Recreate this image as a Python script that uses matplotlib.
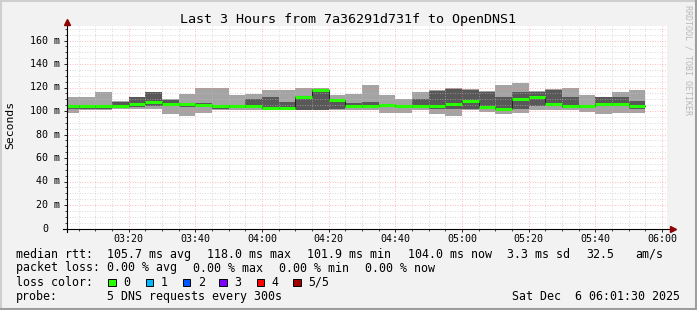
import numpy as np
import pandas as pd
import matplotlib
matplotlib.use('Agg')
import matplotlib.pyplot as plt
import matplotlib.dates as mdates
from matplotlib.patches import Rectangle
from matplotlib.lines import Line2D
from matplotlib.transforms import blended_transform_factory

title = 'Last 3 Hours from 7a36291d731f to OpenDNS1'
first_step = '2025-12-06 03:00'
t_start = pd.Timestamp('2025-12-06 03:01:30')
t_end = pd.Timestamp('2025-12-06 06:01:30')

# 5 DNS requests every 300s, sorted per step: min, 2nd, median, 4th, max (ms)
ping_min = [98.6, 100.9, 100.9, 101.5, 101.7, 101.7, 97.4, 95.7, 98.6, 101.0,
            101.0, 101.0, 100.9, 100.9, 100.9, 100.9, 100.9, 100.9, 100.5, 98.5,
            98.6, 100.9, 97.4, 95.7, 100.9, 99.5, 97.4, 98.6, 100.9, 100.9,
            100.9, 99.5, 97.4, 98.0, 98.5]
ping_lo = [102.0, 101.5, 101.5, 103.5, 103.5, 104.5, 104.5, 103.0, 103.1, 101.7,
           102.5, 102.5, 101.5, 101.5, 101.2, 101.2, 101.5, 102.5, 102.5, 103.5,
           103.5, 102.5, 102.0, 101.7, 102.0, 101.5, 100.9, 101.5, 104.0, 104.5,
           102.5, 102.5, 104.0, 104.0, 101.5]
median = [104.3, 104.3, 104.3, 104.3, 106.3, 108.0, 106.3, 106.3, 105.4, 104.3,
          104.3, 104.3, 102.3, 102.3, 112.3, 118.0, 109.4, 104.3, 104.3, 104.9,
          104.3, 104.3, 104.3, 106.3, 108.3, 103.1, 101.9, 110.6, 112.3, 106.3,
          104.3, 104.3, 106.3, 106.3, 104.0]
ping_hi = [105.0, 105.0, 105.0, 107.7, 111.7, 116.0, 109.4, 106.8, 106.6, 104.8,
           105.5, 110.3, 111.7, 107.7, 113.0, 118.5, 110.0, 107.0, 107.4, 105.5,
           105.0, 110.0, 117.4, 118.6, 118.0, 116.3, 111.7, 116.3, 116.3, 118.0,
           111.7, 105.5, 111.7, 111.7, 108.5]
ping_max = [111.7, 111.7, 116.3, 108.5, 112.0, 116.5, 109.8, 114.6, 119.7, 119.7,
            113.7, 114.5, 118.0, 118.0, 119.7, 119.7, 113.7, 114.8, 122.3, 113.7,
            110.0, 116.3, 118.0, 119.7, 118.3, 116.6, 122.3, 124.0, 117.0, 118.3,
            119.7, 113.7, 112.0, 116.3, 117.8]

ytick_vals = [0, 20, 40, 60, 80, 100, 120, 140, 160]
ytick_text = ['0', '20 m', '40 m', '60 m', '80 m', '100 m', '120 m', '140 m', '160 m']

stat_rows = [
    ('median rtt:', [('105.7 ms avg', 107), ('118.0 ms max', 206.7), ('101.9 ms min', 306.7),
                     ('104.0 ms now', 407.7), ('3.3 ms sd', 506.7), ('32.5', 586), ('am/s', 635)]),
    ('packet loss:', [('0.00 % avg', 107), ('0.00 % max', 193.3), ('0.00 % min', 279.3),
                      ('0.00 % now', 365)]),
]
loss_labels = ['0', '1', '2', '3', '4', '5/5']
loss_colors = ['#26ff00', '#00b8ff', '#0059ff', '#7e00ff', '#ff0000', '#a00000']
probe_text = '5 DNS requests every 300s'
stamp_text = 'Sat Dec  6 06:01:30 2025'

W, H = 697, 310
MONO = 'DejaVu Sans Mono'


def fx(x):
    return x / W


def fy(y):
    return 1 - y / H


fig = plt.figure(figsize=(W / 100, H / 100), dpi=100, facecolor='#f2f2f2')
ax_l, ax_r, ax_b, ax_t = 67, 667, 228.5, 26.4
ax = fig.add_axes([fx(ax_l), fy(ax_b), (ax_r - ax_l) / W, (ax_b - ax_t) / H])
ax.set_facecolor('white')

edges = mdates.date2num(pd.date_range(first_step, periods=len(median) + 1, freq='5min'))


def ext(a):
    return np.append(a, a[-1])


ax.fill_between(edges, ext(ping_min), ext(ping_max), step='post', color='#a4a4a4', lw=0, zorder=1)
ax.fill_between(edges, ext(ping_lo), ext(ping_hi), step='post', color='#585858', lw=0, zorder=1.1)
ax.step(edges, ext(median), where='post', color='#202020', lw=0.7, zorder=3)
ax.hlines(median, edges[:-1], edges[1:], color=loss_colors[0], lw=2.2, zorder=3.1)

ax.set_xlim(mdates.date2num(t_start), mdates.date2num(t_end))
ax.set_ylim(0, 172)
ax.xaxis_date()
ax.xaxis.set_major_locator(mdates.MinuteLocator(byminute=[0, 20, 40]))
ax.xaxis.set_minor_locator(mdates.MinuteLocator(byminute=range(0, 60, 5)))
ax.xaxis.set_major_formatter(mdates.DateFormatter('%H:%M'))
ax.set_yticks(ytick_vals)
ax.set_yticks(np.arange(0, 172, 5), minor=True)
ax.set_yticklabels([])

ax.set_axisbelow(False)
ax.grid(which='minor', color='#c0c0c0', alpha=0.75, ls=(0, (1, 2)), lw=0.6)
ax.grid(which='major', color='#ff8080', alpha=0.7, ls=(0, (1, 2)), lw=0.6)
ax.tick_params(which='major', direction='out', length=2.5, width=0.6, pad=1.2,
               labelsize=7.2, labelfontfamily=MONO)
ax.tick_params(which='minor', direction='out', length=1.5, width=0.5)
for s in ax.spines.values():
    s.set_visible(False)

# axes with arrows
ax.plot([-0.007, 1.008], [0, 0], transform=ax.transAxes, color='black', lw=0.8, clip_on=False, zorder=4)
ax.plot([0, 0], [-0.017, 1.02], transform=ax.transAxes, color='black', lw=0.8, clip_on=False, zorder=4)
ax.plot([1.01], [0], marker='>', ms=4, color='#900000', transform=ax.transAxes, clip_on=False, zorder=5)
ax.plot([0], [1.02], marker='^', ms=4, color='#900000', transform=ax.transAxes, clip_on=False, zorder=5)

# y tick labels in rrdtool style
ylab_trans = blended_transform_factory(fig.transFigure, ax.transData)
for v, t in zip(ytick_vals, ytick_text):
    if v == 0:
        fig.text(fx(45), v, t, fontsize=7.2, family=MONO, ha='center', va='center', transform=ylab_trans)
    else:
        fig.text(fx(60), v, t, fontsize=7.2, family=MONO, ha='right', va='center', transform=ylab_trans)

fig.text(0.5, fy(19.5), title, fontsize=9.6, family=MONO, ha='center', va='center')
fig.text(fx(10), fy(125), 'Seconds', fontsize=8.2, family=MONO, rotation=90, ha='center', va='center')
fig.text(fx(688), fy(5), 'RRDTOOL / TOBI OETIKER', fontsize=6, family=MONO, rotation=270,
         ha='center', va='top', color='#b8b8b8')

row_y = [254.3, 268, 282.2, 296.3]
for (head, parts), y in zip(stat_rows, row_y):
    fig.text(fx(16), fy(y), head, fontsize=8.4, family=MONO, va='center')
    for t, x in parts:
        fig.text(fx(x), fy(y), t, fontsize=8.4, family=MONO, va='center')

fig.text(fx(16), fy(row_y[2]), 'loss color:', fontsize=8.4, family=MONO, va='center')
box_x = [108.3, 145.7, 182.7, 219.3, 256.7, 293.3]
for lab, col, bx in zip(loss_labels, loss_colors, box_x):
    fig.add_artist(Rectangle((fx(bx), fy(286)), 7.5 / W, 7.5 / H, transform=fig.transFigure,
                             facecolor=col, edgecolor='black', lw=0.7))
    fig.text(fx(bx + 15), fy(row_y[2]), lab, fontsize=8.4, family=MONO, va='center')

fig.text(fx(16), fy(row_y[3]), 'probe:', fontsize=8.4, family=MONO, va='center')
fig.text(fx(107), fy(row_y[3]), probe_text, fontsize=8.4, family=MONO, va='center')
fig.text(fx(680), fy(row_y[3]), stamp_text, fontsize=8.4, family=MONO, va='center', ha='right')

# 3d frame
fig.add_artist(Line2D([0, 1], [fy(1), fy(1)], transform=fig.transFigure, color='#cfcfcf', lw=1.5))
fig.add_artist(Line2D([fx(1), fx(1)], [0, 1], transform=fig.transFigure, color='#cfcfcf', lw=1.5))
fig.add_artist(Line2D([0, 1], [fy(309), fy(309)], transform=fig.transFigure, color='#9e9e9e', lw=1.5))
fig.add_artist(Line2D([fx(696), fx(696)], [0, 1], transform=fig.transFigure, color='#9e9e9e', lw=1.5))

fig.savefig('out.png', dpi=100, facecolor=fig.get_facecolor())
